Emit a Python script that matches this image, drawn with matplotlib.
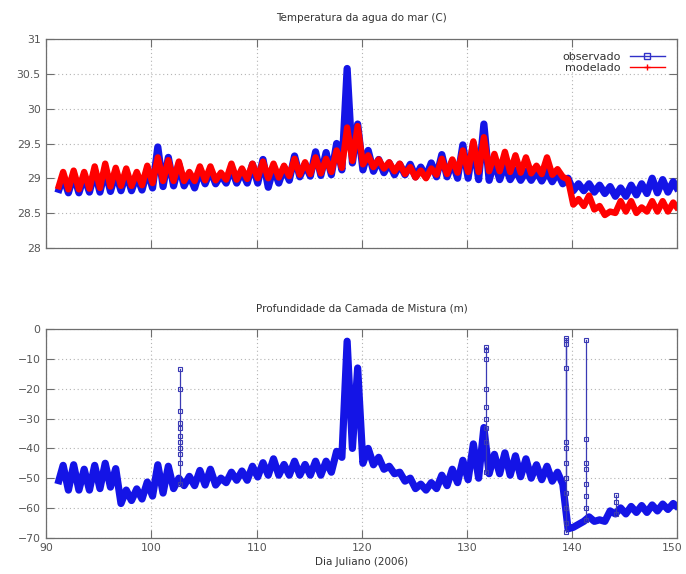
import numpy as np
import matplotlib.pyplot as plt
import matplotlib.transforms as mtransforms
from matplotlib.lines import Line2D

# dados: minimo (inicio do dia) e maximo (tarde) de cada dia
# temperatura modelada, maximos dias 91..149, minimos dias 91..150
mod_temp_max = [29.09, 29.11, 29.09, 29.17, 29.21, 29.15, 29.14, 29.09, 29.18, 29.30,
                29.26, 29.24, 29.09, 29.17, 29.17, 29.08, 29.21, 29.14, 29.21, 29.24,
                29.21, 29.18, 29.28, 29.23, 29.30, 29.28, 29.40, 29.73, 29.75, 29.33,
                29.27, 29.23, 29.21, 29.16, 29.11, 29.14, 29.28, 29.27, 29.40, 29.53,
                29.59, 29.35, 29.38, 29.33, 29.30, 29.18, 29.30, 29.13, 28.98, 28.70,
                28.75, 28.60, 28.52, 28.67, 28.67, 28.58, 28.67, 28.67, 28.65]
mod_temp_min = [28.84, 28.84, 28.84, 28.85, 28.86, 28.88, 28.89, 28.89, 28.90, 28.93,
                28.96, 28.96, 28.96, 28.96, 28.97, 28.97, 28.98, 28.98, 28.99, 29.00,
                29.00, 29.01, 29.03, 29.05, 29.06, 29.07, 29.09, 29.15, 29.25, 29.20,
                29.16, 29.14, 29.10, 29.06, 29.01, 29.00, 29.05, 29.06, 29.08, 29.09,
                29.09, 29.10, 29.10, 29.09, 29.08, 29.07, 29.06, 29.05, 29.02, 28.62,
                28.60, 28.55, 28.47, 28.50, 28.52, 28.50, 28.52, 28.52, 28.52, 28.55]

# temperatura observada
obs_temp_max = [29.02, 29.05, 29.03, 29.10, 29.12, 29.08, 29.08, 29.04, 29.12, 29.45,
                29.30, 29.20, 29.05, 29.12, 29.12, 29.05, 29.15, 29.10, 29.20, 29.27,
                29.15, 29.15, 29.32, 29.20, 29.38, 29.37, 29.50, 30.58, 29.78, 29.40,
                29.27, 29.22, 29.20, 29.20, 29.16, 29.22, 29.34, 29.24, 29.48, 29.50,
                29.78, 29.25, 29.20, 29.12, 29.10, 29.10, 29.10, 29.08, 29.00, 28.92,
                28.92, 28.90, 28.88, 28.86, 28.90, 28.92, 29.00, 28.98, 28.95]
obs_temp_min = [28.79, 28.79, 28.79, 28.80, 28.80, 28.81, 28.82, 28.82, 28.83, 28.86,
                28.88, 28.89, 28.89, 28.86, 28.92, 28.92, 28.93, 28.93, 28.93, 28.93,
                28.87, 28.93, 28.97, 29.02, 29.03, 29.04, 29.05, 29.12, 29.22, 29.12,
                29.10, 29.08, 29.05, 29.05, 29.02, 29.02, 29.02, 29.02, 29.00, 29.00,
                28.98, 28.97, 28.98, 28.98, 28.97, 28.97, 28.96, 28.95, 28.92, 28.82,
                28.82, 28.80, 28.78, 28.74, 28.74, 28.76, 28.78, 28.79, 28.80, 28.82]

# profundidade da camada de mistura (m)
mld_max = [-45.7, -45.5, -47.0, -45.7, -45.0, -46.8, -54.0, -53.6, -51.3, -45.5,
           -46.0, -50.0, -49.4, -47.4, -47.0, -50.0, -48.0, -47.6, -46.0, -44.8,
           -43.5, -45.4, -44.3, -45.4, -44.3, -44.3, -41.0, -4.0, -13.0, -40.0,
           -43.0, -46.0, -48.0, -50.0, -52.0, -51.5, -49.0, -47.0, -44.0, -38.5,
           -33.0, -42.0, -41.5, -42.5, -43.5, -45.5, -46.0, -48.0, -67.0, -65.5,
           -63.0, -64.0, -61.0, -60.0, -59.5, -59.2, -59.0, -58.7, -58.5]
mld_min = [-52.0, -54.0, -54.0, -54.0, -53.5, -53.0, -58.5, -57.5, -57.0, -56.0,
           -55.0, -53.5, -52.5, -52.5, -52.3, -52.3, -51.5, -50.7, -50.7, -49.6,
           -49.0, -49.0, -49.0, -49.0, -49.0, -49.0, -48.0, -43.0, -40.0, -45.0,
           -45.5, -47.0, -48.5, -51.0, -53.5, -54.0, -53.5, -52.5, -51.5, -50.5,
           -50.0, -48.5, -48.5, -49.0, -49.5, -50.0, -50.5, -51.0, -52.0, -66.5,
           -64.5, -64.5, -64.5, -62.0, -62.0, -61.5, -61.5, -61.0, -60.5, -60.0]

# picos isolados da camada de mistura (dia, valores medidos)
spike_days = [102.7, 131.8, 139.4, 141.35, 144.2]
spike_values = [
    [-52, -45, -42, -40, -38, -36, -33, -31.5, -27.5, -20, -13.5],
    [-48, -38, -33, -30, -26, -20, -10, -7, -6],
    [-50, -38, -13, -5, -3, -3.5, -40, -45, -50, -55, -60, -65, -68],
    [-64, -60, -56, -52, -47, -45, -37, -3.5],
    [-62, -58, -55.5],
]

xticks = [90, 100, 110, 120, 130, 140, 150]
temp_ticks = [28, 28.5, 29, 29.5, 30, 30.5, 31]
temp_labels = ['28', '28.5', '29', '29.5', '30', '30.5', '31']
mld_ticks = [0, -10, -20, -30, -40, -50, -60, -70]

BLUE = '#1414e6'
RED = '#ff0000'
GRAY = '#6e6e6e'


def zigzag(lows, highs):
    out = np.empty(len(lows) + len(highs))
    out[0::2] = lows
    out[1::2] = highs
    return out


# meio em meio dia: minimos em n.1 e maximos em n.6
t = np.linspace(91.1, 150.1, 119)

plt.rcParams['font.family'] = ['DejaVu Sans']

fig = plt.figure(figsize=(6.86, 5.74), dpi=100)
ax1 = fig.add_axes([0.0675, 0.5685, 0.92, 0.363])
ax2 = fig.add_axes([0.0675, 0.0632, 0.92, 0.3631])


def style(ax):
    ax.set_xlim(90, 150)
    ax.set_xticks(xticks)
    ax.grid(True, linestyle=(0, (1, 2.5)), color='#b4b4b4', linewidth=0.8)
    ax.tick_params(direction='in', length=5.5, width=0.8, color=GRAY,
                   top=True, right=True, labelsize=7.8, labelcolor='#555555', pad=4)
    for s in ax.spines.values():
        s.set_color(GRAY)
        s.set_linewidth(0.9)


ax1.plot(t, zigzag(obs_temp_min, obs_temp_max), color=BLUE, lw=5.2,
         solid_joinstyle='round', solid_capstyle='butt')
ax1.plot(t, zigzag(mod_temp_min, mod_temp_max), color=RED, lw=4.6,
         solid_joinstyle='round', solid_capstyle='butt')
style(ax1)
ax1.set_ylim(28, 31)
ax1.set_yticks(temp_ticks)
ax1.set_yticklabels(temp_labels)
ax1.tick_params(labelbottom=False)
ax1.set_title('Temperatura da agua do mar (C)', fontsize=7.5, color='#333333', pad=13)

handles = [Line2D([], [], color='#3030c8', lw=1, marker='s', markersize=4,
                  markerfacecolor='none'),
           Line2D([], [], color=RED, lw=1, marker='+', markersize=5)]
ax1.legend(handles, ['observado', 'modelado'], loc='upper right', frameon=False,
           markerfirst=False, fontsize=8, handlelength=3.2, handletextpad=0.8,
           labelspacing=0.1, borderaxespad=0.7, labelcolor='#333333')

ax2.plot(t, zigzag(mld_min, mld_max), color=BLUE, lw=5.2,
         solid_joinstyle='round', solid_capstyle='butt')
for d, vals in zip(spike_days, spike_values):
    ax2.plot([d] * len(vals), vals, color='#3a3ab4', lw=0.9, marker='s',
             markersize=3.5, markerfacecolor='none', markeredgewidth=0.8)
style(ax2)
ax2.set_ylim(-70, 0)
ax2.set_yticks(mld_ticks)
ax2.set_title('Profundidade da Camada de Mistura (m)', fontsize=7.5, color='#333333', pad=13)
ax2.set_xlabel('Dia Juliano (2006)', fontsize=7.5, color='#333333', labelpad=3)

# o ultimo rotulo (150) fica encostado na borda; puxa um pouco para dentro
last = ax2.get_xticklabels()[-1]
last.set_transform(last.get_transform() +
                   mtransforms.ScaledTranslation(-4 / 72, 0, fig.dpi_scale_trans))

fig.savefig('out.png', dpi=100)
